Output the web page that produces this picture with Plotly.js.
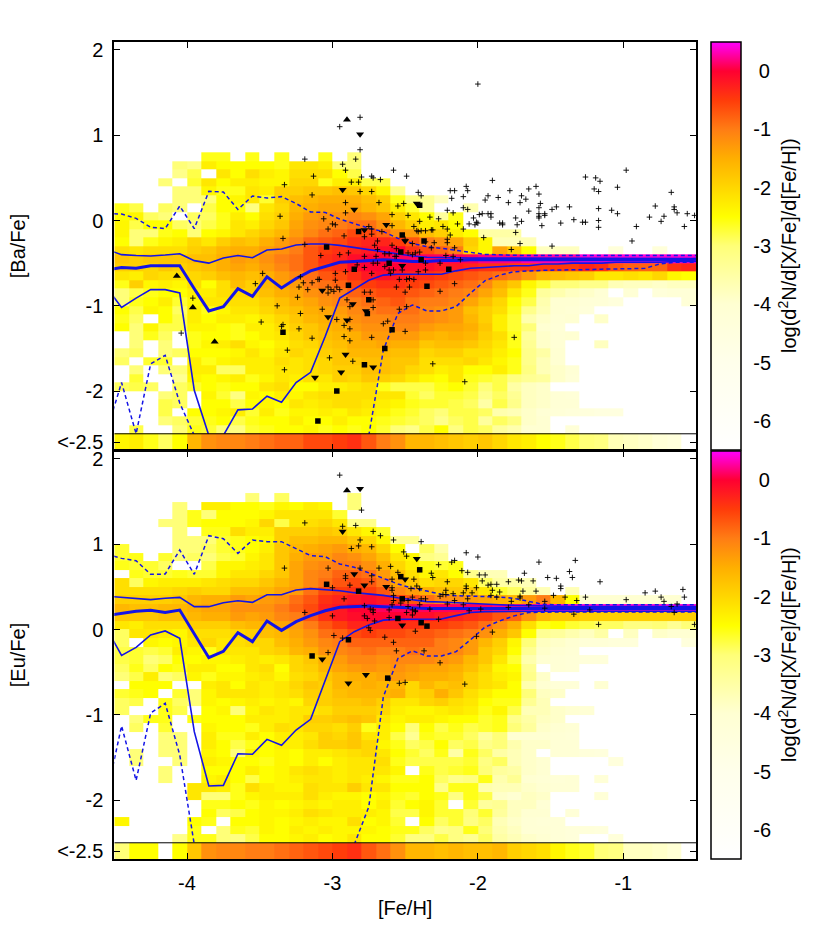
<!DOCTYPE html>
<html><head><meta charset="utf-8"><script src="https://cdn.plot.ly/plotly-3.0.1.min.js"></script>
<style>html,body{margin:0;padding:0;background:#fff}</style></head><body><div id="c" style="width:830px;height:930px"></div>
<script>
const _=null;
// log density in tenths of a dex; rows run top to bottom, last row is the "<-2.5" underflow bin
const baRows=[
[_,_,_,_,_,_,-26,-26,_,-26,_,-26,_,_,-26,_,-30],
[_,_,_,_,-30,-32,-23,-25,-25,-25,-25,-26,-22,-22,-23,-30,-30],
[_,_,_,_,-32,-28,_,-22,-25,-21,-23,-24,-21,-21,-21,-25,-28],
[_,_,_,-30,_,-27,-22,-25,-23,-23,-24,-24,-20,-20,-26,-23,-23,-28,-28],
[_,_,_,_,-30,-30,-24,-26,-26,-22,-23,-19,-19,-18,-18,-17,-18,-20,-24,-33],
[_,_,_,_,-30,-30,-30,-25,-24,-22,-27,-19,-17,-16,-15,-15,-15,-17,-19,-26,-31,-33,-38],
[-26,-28,_,-29,-30,_,-28,-25,-25,-31,-22,-20,-16,-15,-14,-14,-14,-16,-18,-23,-27,-33,_,_,-36],
[-25,-24,-29,-30,_,-29,-29,-26,-23,-25,-21,-19,-15,-13,-12,-12,-11,-12,-14,-19,-22,-25,-34,-26],
[-24,-28,-25,-25,-29,-30,-28,-26,-22,-23,-20,-18,-14,-12,-11,-10,-9,-9,-12,-16,-19,-23,-22,-25],
[-24,-30,-30,-26,-25,-30,-25,-24,-22,-20,-18,-16,-13,-11,-9,-8,-6,-6,-8,-12,-13,-17,-19,-23,-25,-35,-35,-35],
[-25,-30,-26,-24,-23,-20,-22,-19,-17,-18,-15,-13,-11,-8,-7,-6,-4,-3,-3,-5,-7,-10,-12,-14,-19,-24,-37,-37,-37],
[-21,-22,-21,-21,-21,-19,-18,-16,-15,-15,-13,-12,-10,-7,-5,-4,-3,-2,-1,0,-4,-6,-8,-10,-20,-24,-14,-18,-25,-38,-38,-38,_,_,-43,_,_,-43],
[-18,-19,-18,-18,-18,-17,-17,-15,-13,-14,-12,-10,-9,-7,-4,-3,-1,0,0,1,1,1,1,1,1,2,2,2,3,3,3,3,4,4,4,4,4,4,4,4],
[-19,-19,-20,-18,-19,-18,-17,-15,-14,-15,-13,-11,-9,-7,-5,-4,-1,0,0,0,-1,-1,-2,-2,-3,-4,-4,-5,-5,-5,-5,-5,-3,-4,-7,-8,-8,-8,-4,-3],
[-22,-23,-20,-21,-21,-20,-19,-17,-16,-17,-15,-13,-11,-9,-7,-6,-4,-2,-1,-2,-3,-4,-5,-6,-7,-8,-9,-10,-13,-16,-17,-18,-19,-22,-22,-21,-22,-20,-24,-25],
[-26,-19,-24,-23,-24,-21,-25,-21,-17,-19,-16,-14,-13,-10,-9,-8,-6,-5,-4,-4,-5,-6,-7,-8,-9,-11,-15,-18,-24,-27,-30,-30,-32,-32,-37,-38,-38,-39,-38,-38],
[-30,-28,-26,-25,-25,-23,-23,-21,-20,-19,-17,-15,-14,-12,-11,-10,-8,-7,-6,-6,-7,-8,-9,-10,-11,-14,-17,-22,-26,-34,-36,-38,-39,-41,_,-41,_,-43,-42,-42],
[-30,-26,-25,-23,-27,-24,-22,-22,-21,-21,-19,-17,-15,-14,-12,-11,-10,-9,-8,-7,-9,-10,-10,-11,-14,-17,-20,-25,-28,-36,-40,-40,-42,-42,-44,_,_,_,_,-42],
[-25,-28,-24,-25,-29,-23,-26,-24,-22,-22,-20,-18,-17,-15,-14,-13,-11,-10,-9,-9,-9,-11,-12,-13,-17,-19,-21,-26,-32,-37,-40,-41,-43],
[-26,-29,_,-25,-28,-23,-25,-23,-23,-24,-22,-20,-18,-16,-15,-14,-12,-11,-11,-10,-10,-11,-12,-13,-16,-19,-23,-27,-36,-39,-41,-40,_,-39],
[-25,-30,-24,-28,-28,-24,-24,-25,-26,-23,-23,-21,-19,-18,-16,-15,-13,-12,-12,-11,-11,-13,-14,-14,-15,-18,-23,-27,-30,-40,-42],
[_,-30,-26,-29,_,-26,-25,-25,-26,-25,-23,-22,-20,-18,-17,-16,-15,-13,-13,-13,-13,-15,-16,-15,-16,-19,-21,-26,-34,-39,-41,-40],
[_,-30,_,-30,_,-26,-24,-23,-21,-24,-25,-23,-21,-20,-18,-17,-15,-15,-14,-15,-15,-18,-17,-17,-18,-20,-22,-26,-33,-39,-41,_,_,-38],
[-30,-29,_,-30,-29,-25,-25,-25,-24,-22,-24,-22,-20,-21,-19,-18,-16,-16,-16,-17,-17,-20,-19,-19,-21,-21,-23,-25,-32,-35,-40],
[-29,_,-27,-27,_,-23,-26,-24,-23,-23,-23,-21,-22,-21,-20,-18,-18,-17,-17,-18,-18,-21,-21,-21,-20,-22,-24,-26,-32,-37,-40],
[_,-30,_,-30,-30,-23,-23,-29,-29,-23,-23,-22,-22,-21,-20,-19,-19,-17,-17,-18,-20,-21,-23,-22,-25,-25,-23,-26,-31,-37,-39,-41],
[_,-27,_,_,-33,-24,-25,-24,-23,-26,-24,-22,-23,-21,-22,-19,-20,-18,-19,-20,-22,-24,-25,-22,-26,-27,-28,-31,-33,-34,-39,-42],
[-29,-28,-29,_,-29,-27,-25,-26,-25,-25,-22,-21,-25,-25,-23,-23,-22,-21,-26,-28,-28,-28,-26,-25,-27,-30,-28,-35,-38,-39],
[_,_,_,-30,-29,_,-24,-27,-31,-24,-25,-23,-24,-22,-21,-21,-21,-21,-22,-22,-27,-29,-27,-27,-28,-32,-29,-33,-38,-39,-41,-42],
[_,_,_,-28,-29,_,-25,-25,-28,-25,-24,-25,-22,-23,-22,-21,-21,-22,-23,-24,-26,-27,-27,-28,-29,-35,-28,-32,-38,-39,-41,-41],
[_,_,_,-28,_,-25,-25,-24,-23,-27,-23,-26,-24,-24,-23,-24,-22,-23,-24,-26,-27,-29,-30,-28,-28,-29,-36,-37,-39,-41,-42,-43,-44,-45,-45],
[_,_,_,-30,-29,-27,-26,-25,-28,-26,-25,-25,-23,-25,-25,-23,-25,-25,-26,-27,-28,-29,-32,-29,-28,-34,-29,-31,-39,-40],
[_,-28,_,_,-30,-26,-27,-30,-31,-27,-26,-25,-25,-24,-26,-25,-26,-25,-27,-30,-32,-28,-25,-31,-28,-29,-34,-36,-40,-40,_,-42],
[-24,-23,-26,-29,-25,-16,-12,-11,-11,-10,-9,-8,-8,-6,-6,-5,-4,-7,-10,-12,-16,-16,-17,-18,-19,-18,-20,-22,-23,-25,-26,-28,-30,-31,-37,-38,-39,-42,-44]
];
const euRows=[
[_,_,_,_,_,_,_,_,_,-30,_,-29,_,_,_,_,-30],
[_,_,_,_,-30,_,-23,-23,-25,-25,-26,-24,-25,-23,-24,_,-30],
[_,_,_,_,-30,-26,-30,-25,-25,-25,-24,-22,-22,-22,-22,-27],
[_,_,_,-30,-30,-26,-25,-25,-25,-24,-20,-28,-22,-21,-20,-22,-32,-32],
[_,_,_,_,-30,_,-26,-26,-21,-23,-23,-19,-19,-19,-18,-19,-22,-24,-27],
[_,_,_,_,-30,-30,-30,-27,-26,-25,-24,-19,-17,-17,-16,-16,-18,-20,-24,-34,-34],
[-27,_,_,_,-30,-30,-29,-27,-26,-25,-23,-18,-16,-15,-14,-13,-15,-16,-20,-25,_,-29,-36],
[-27,-26,_,-27,-30,-29,-30,-28,-27,-24,-22,-18,-15,-13,-13,-11,-12,-14,-17,-22,-24,-31,-33],
[-26,-27,-27,-29,_,_,-28,-24,-24,-23,-22,-18,-14,-12,-11,-10,-10,-12,-15,-20,-23,-26,-27,-26],
[_,-26,-27,-27,-26,-27,-27,-24,-22,-22,-20,-18,-14,-11,-10,-8,-8,-9,-13,-17,-21,-24,-22,-25,-32,-37,-37],
[-21,-29,-24,-23,-23,-23,-22,-21,-20,-20,-18,-16,-14,-11,-9,-7,-6,-7,-10,-14,-18,-21,-20,-20,-22,-29,-35,-35,-37],
[-21,-21,-21,-21,-20,-19,-20,-20,-17,-17,-16,-14,-13,-9,-6,-5,-4,-5,-7,-11,-13,-15,-17,-18,-18,-22,-27,-29,-34,-37,_,-37],
[-19,-19,-19,-19,-18,-16,-15,-15,-13,-14,-13,-12,-9,-7,-4,-3,-2,-1,-2,-5,-7,-9,-11,-12,-13,-14,-15,-16,-13,-10,-16,-25,-40,-40,-40,-40,-40,-40,-40],
[-16,-17,-17,-16,-16,-15,-14,-14,-12,-12,-12,-10,-8,-6,-3,-2,0,0,1,1,1,1,1,1,1,1,2,2,3,3,4,4,4,4,4,4,4,4,4,4],
[-18,-18,-18,-17,-17,-16,-15,-15,-13,-14,-13,-11,-10,-7,-4,-2,-1,0,0,0,-1,-1,-2,-3,-4,-5,-7,-8,-12,-16,-18,-18,-19,-19,-19,-19,-19,-19,-19,-19],
[-22,-23,-21,-21,-21,-19,-19,-19,-17,-16,-16,-14,-13,-10,-7,-5,-3,-3,-3,-3,-4,-5,-5,-6,-7,-9,-12,-15,-21,-26,-25,-27,-28,-29,-29,-31,-31,-30,-33,-30],
[-29,-22,-22,-23,-24,-21,-21,-21,-20,-19,-17,-16,-14,-12,-9,-8,-6,-5,-6,-6,-7,-7,-8,-9,-10,-12,-15,-18,-25,-33,-34,-36,-38,-35,_,-38,_,-39,-40,-40],
[-29,_,-24,-25,-24,-22,-20,-22,-21,-20,-20,-17,-15,-13,-11,-10,-8,-8,-8,-8,-8,-8,-10,-11,-13,-16,-19,-24,-30,-38,-39,-40,-42,-42,-43,-43,_,_,_,-44],
[-28,-27,-28,-27,-23,-24,-26,-22,-22,-22,-20,-19,-16,-15,-12,-11,-10,-9,-10,-10,-9,-10,-10,-11,-13,-18,-20,-25,-33,-39,-40,-41],
[-28,-27,-30,-29,-25,-25,-24,-24,-23,-22,-23,-22,-20,-18,-15,-13,-11,-11,-12,-11,-11,-11,-12,-13,-16,-18,-22,-27,-36,-40,-41,-42,-43,-43],
[-29,-26,-29,-25,-26,-23,-23,-25,-25,-22,-21,-25,-20,-19,-16,-14,-13,-12,-13,-12,-13,-14,-14,-15,-17,-20,-24,-25,-33,_,-41,-42],
[-30,-28,-23,-30,-29,-24,-26,-24,-24,-23,-22,-24,-21,-20,-18,-16,-15,-15,-14,-13,-14,-15,-15,-16,-19,-21,-23,-24,-32,-39],
[_,-25,-25,-25,_,_,-23,-22,-25,-22,-23,-22,-20,-18,-19,-16,-16,-15,-16,-16,-20,-16,-18,-17,-19,-21,-22,-25,-36,-40,-42,-42,_,-40],
[-27,-26,-25,_,-27,-30,-24,-22,-22,-22,-23,-22,-21,-19,-19,-17,-16,-16,-16,-15,-20,-19,-15,-18,-21,-23,-25,-25,-30,-38,-39],
[-29,-28,_,-26,-29,-30,-24,-25,-24,-23,-24,-23,-24,-20,-19,-18,-18,-17,-19,-22,-22,-20,-19,-21,-22,-25,-26,-26,-33,-37],
[-29,_,_,-26,-28,_,-25,-24,-30,-24,-22,-23,-22,-22,-21,-19,-19,-19,-20,-23,-24,-24,-23,-22,-23,-26,-24,-28,-37,-37,-39,-40,-41],
[_,-30,-26,-26,_,-26,-25,-25,-25,-23,-23,-23,-22,-19,-19,-18,-17,-18,-22,-24,-23,-23,-24,-25,-25,-27,-26,-32,-35,-38,-39],
[_,-29,_,-27,_,_,-24,-25,-25,-26,-23,-21,-22,-20,-20,-21,-19,-26,-23,-25,-30,-25,-28,-26,-28,-27,-26,-30,-34,-39,-40,-41],
[_,_,_,-30,-30,_,-23,-26,-26,-23,-25,-23,-23,-22,-19,-20,-18,-22,-23,-28,-33,-26,-27,-27,-29,-34,-30,-40,-40,-40,-41,-42],
[_,_,_,-30,-30,_,-23,-25,-28,-26,-25,-23,-23,-21,-19,-19,-18,-20,-24,-26,-29,-28,-25,-29,-28,-32,-30,-36,-39,-39,-41,-41],
[_,-30,_,-30,-30,_,-24,-25,-30,-24,-25,-24,-25,-23,-23,-22,-21,-20,-22,-25,-27,-29,-26,-35,-26,-29,-35,-37,-39,_,-41,-41,-43,-44],
[_,-30,_,_,-30,_,-23,-24,-25,-25,-26,-24,-25,-23,-25,-23,-22,-22,-21,-26,-28,-28,-28,-28,-27,-31,-29,-37,-39,-40,_,_,_,_,-44],
[_,_,_,-30,_,_,-25,-25,-25,-23,-25,-24,-22,-21,-22,-23,-22,-22,-22,-24,_,-26,-28,-27,-26,-30,-34,-35,-39,-40],
[_,_,_,-30,_,_,-24,-23,-25,-28,-25,-24,-23,-22,-22,-23,-22,-23,-24,-26,-26,-25,-29,-32,-31,-26,-36,-33,-40,-41,-42,-41,_,-42],
[_,_,_,_,_,-22,-22,-23,-26,-21,-23,-24,-24,-21,-22,-22,-19,-22,-22,-25,-25,-25,-32,-26,-26,-36,-37,-37,-39,-40,-41,-41],
[_,_,_,_,_,-22,-30,-30,-26,-24,-23,-23,-23,-21,-23,-24,-24,-25,-24,-26,-27,-25,-26,-31,-26,-28,-39,-40,-38,-39,_,_,_,-42],
[_,_,_,_,_,_,-26,-26,-25,-26,-24,-25,-24,-23,-24,-23,-23,-25,-23,-27,-25,-24,-27,_,-27,-34,-33,-38,-38,-41],
[_,_,_,_,_,_,-25,-29,-28,-25,-24,-24,-23,-21,-22,-23,-23,-23,-24,-28,-28,-24,-27,-27,-30,-27,-34,-38,-40,-40,_,-42],
[-24,_,_,_,_,-25,-26,_,-25,-25,-24,-25,-24,-23,-24,-24,-21,-25,-24,-27,_,-25,-29,-27,-31,-29,-37,-39,-41,-42,-42],
[_,_,_,_,_,-26,_,-30,-26,-27,-24,-25,-23,-24,-23,-24,-24,-24,-25,-26,-26,-29,-32,-31,-26,-30,-36,-38,-41,-41,-42,-43,-43,-44],
[_,_,_,_,-32,-26,-26,-30,-31,-28,-25,-25,-24,-23,-25,-24,-22,-25,-25,-27,-31,-31,-28,-31,-33,-29,-35,-37,-39,-40,-42,-43,_,_,-43],
[-30,-25,-25,_,-25,-18,-12,-11,-11,-10,-10,-9,-8,-7,-6,-5,-4,-7,-9,-12,-16,-16,-17,-16,-17,-17,-16,-19,-20,-21,-24,-26,-27,-30,-31,-38,-38,-39,-41]
];
const binEdgesFeH=[-4.5,-4.4,-4.3,-4.2,-4.1,-4,-3.9,-3.8,-3.7,-3.6,-3.5,-3.4,-3.3,-3.2,-3.1,-3,-2.9,-2.8,-2.7,-2.6,-2.5,-2.4,-2.3,-2.2,-2.1,-2,-1.9,-1.8,-1.7,-1.6,-1.5,-1.4,-1.3,-1.2,-1.1,-1,-0.9,-0.8,-0.7,-0.6,-0.5];
const lineFeH=[-4.55,-4.45,-4.35,-4.25,-4.15,-4.05,-3.95,-3.85,-3.75,-3.65,-3.55,-3.45,-3.35,-3.25,-3.15,-3.05,-2.95,-2.85,-2.75,-2.65,-2.55,-2.45,-2.35,-2.25,-2.15,-2.05,-1.95,-1.85,-1.75,-1.65,-1.55,-1.45,-1.35,-1.25,-1.15,-1.05,-0.95,-0.85,-0.75,-0.65,-0.55,-0.45];
const baMean=[-.58,-.55,-.56,-.53,-.53,-.53,-.8,-1.06,-1.01,-.8,-.89,-.66,-.79,-.68,-.59,-.54,-.49,-.48,-.47,-.46,-.47,-.48,-.48,-.47,-.47,-.46,-.46,-.46,-.46,-.46,-.46,-.46,-.46,-.46,-.46,-.46,-.46,-.46,-.46,-.46,-.46,-.45];
const baUp1=[-.34,-.4,-.41,-.416,-.405,-.389,-.47,-.5,-.44,-.41,-.436,-.346,-.334,-.287,-.275,-.275,-.291,-.315,-.338,-.365,-.393,-.416,-.43,-.435,-.44,-.44,-.44,-.44,-.44,-.44,-.445,-.445,-.445,-.445,-.445,-.445,-.445,-.445,-.445,-.445,-.445,-.445];
const baLo1=[-.79,-1.02,-.91,-.81,-.81,-.85,-1.99,-2.52,-2.52,-2.22,-2.21,-2.06,-2.13,-1.9,-1.78,-1.36,-.91,-.8,-.7,-.64,-.63,-.63,-.63,-.63,-.59,-.56,-.55,-.54,-.53,-.53,-.51,-.51,-.5,-.5,-.5,-.49,-.49,-.49,-.49,-.48,-.48,-.48];
const baUp2=[.08,.076,.025,-.079,-.095,.17,-.095,.342,.334,.13,.287,.264,.28,.2,.1,.095,.017,-.04,-.09,-.13,-.209,-.27,-.307,-.326,-.346,-.373,-.397,-.405,-.408,-.41,-.41,-.41,-.41,-.41,-.41,-.41,-.41,-.41,-.41,-.41,-.41,-.41];
const baLo2=[-2.46,-1.9,-2.5,-1.68,-1.58,-2.14,-2.52,_,_,_,_,_,_,_,_,_,_,_,-2.52,-1.52,-1.09,-.99,-1.06,-1.06,-1.01,-.85,-.705,-.64,-.6,-.59,-.584,-.58,-.58,-.575,-.57,-.57,-.565,-.56,-.51,-.49,-.49,-.49];
const euMean=[.165,.19,.214,.225,.2,.228,-.045,-.33,-.256,-.037,-.142,.1,-.01,.092,.163,.22,.26,.267,.275,.267,.26,.248,.245,.245,.245,.245,.245,.245,.245,.245,.245,.245,.245,.245,.245,.245,.245,.245,.245,.245,.245,.245];
const euUp1=[.39,.377,.358,.35,.366,.377,.268,.268,.314,.338,.318,.408,.408,.463,.479,.467,.455,.432,.42,.4,.373,.35,.327,.323,.314,.31,.3,.29,.283,.28,.275,.27,.27,.27,.27,.27,.27,.27,.27,.27,.27,.27];
const euLo1=[0,-.303,-.209,-.064,-.017,-.104,-1.198,-1.835,-1.827,-1.456,-1.463,-1.288,-1.358,-1.178,-1.053,-.6,-.143,-.025,.053,.11,.12,.12,.12,.123,.163,.2,.21,.213,.215,.215,.215,.215,.215,.215,.215,.215,.215,.215,.215,.215,.215,.215];
const euUp2=[.88,.834,.807,.647,.65,.932,.647,1.1,1.065,.893,1.049,1.03,1.03,.95,.866,.854,.768,.729,.66,.6,.534,.483,.451,.412,.397,.393,.385,.381,.365,.326,.295,.29,.29,.29,.29,.29,.29,.29,.29,.29,.29,.29];
const euLo2=[-1.92,-1.13,-1.77,-.98,-.865,-1.47,-2.52,_,_,_,_,_,_,_,_,_,_,-2.52,-2.08,-.79,-.34,-.25,-.31,-.31,-.26,-.12,.03,.1,.16,.2,.205,.205,.205,.205,.205,.205,.205,.205,.205,.205,.205,.205];
const baPlus=[[-2.81,1.21],[-2.95,1.1],[-2.81,.83],[-2.84,.72],[-3.19,.72],[-2.93,.66],[-2.91,.59],[-2.58,.59],[-2.49,.52],[-3.13,.52],[-2.8,.51],[-2.73,.52],[-2.72,.5],[-2.67,.48],[-2.87,.45],[-2.82,.45],[-3.33,.42],[-2.41,.33],[-2.81,.34],[-2.73,.34],[-3.14,.3],[-2.68,.21],[-2.51,.2],[-2.55,.17],[-2.91,.21],[-2.91,.09],[-3.36,.05],[-2.59,.07],[-2.48,.06],[-3.06,.02],[-3,-.04],[-2.98,-.05],[-3.03,-.1],[-2.44,-.07],[-2.59,-.06],[-2.75,-.07],[-2.73,-.1],[-2.66,-.13],[-2.42,-.12],[-2.41,-.13],[-3.34,-.21],[-2.92,-.18],[-2.78,-.19],[-2.73,-.16],[-2.71,-.29],[-2.69,-.24],[-2.59,-.29],[-2.5,-.22],[-2.45,-.27],[-3.19,-.28],[-2.56,-.33],
[-2,1.6],[-1.9,.47],[-1.26,.51],[-1.19,.5],[-1.16,.46],[-.98,.59],[-1.04,.39],[-1.2,.37],[-1.17,.34],[-.67,.33],[-2.08,.4],[-2.19,.35],[-2.16,.35],[-2.07,.35],[-2.1,.28],[-2.18,.26],[-2.39,.29],[-1.6,.4],[-1.65,.37],[-1.78,.35],[-1.58,.31],[-1.7,.29],[-1.67,.25],[-1.86,.27],[-1.93,.29],[-1.95,.24],[-1.79,.21],[-1.71,.21],[-1.57,.2],[-1.58,.15],[-2.1,.15],[-2.07,.13],[-2.21,.12],[-2.17,.09],[-2.33,.04],[-2.27,.02],[-1.99,.07],[-1.97,.08],[-1.93,.08],[-1.91,.08],[-1.91,.04],[-2.03,.03],[-2.01,-.02],[-2,-.03],[-2.06,-.04],[-2.02,-.05],[-1.85,-.03],[-1.83,-.03],[-1.83,-.05],[-1.74,.03],[-1.7,-.01],[-1.73,-.05],[-1.58,.08],[-1.54,.08],[-1.58,.05],[-1.58,.03],[-1.54,.06],[-1.65,.11],[-1.49,.13],[-1.46,.16],[-1.37,.16],[-1.34,.01],[-1.43,-.03],[-1.28,-.02],[-1.26,-.02],[-1.56,-.06],[-1.17,.14],[-1.08,.12],[-1.04,.08],[-1.17,0],[-1.17,-.08],[-.91,-.07],[-.78,.17],[-.65,.16],[-.65,.13],[-.63,.09],[-.72,.05],[-.82,.04],[-.74,-.01],[-.58,-.07],[-.56,.08],[-.51,.06],[-.94,-.24],[-2.4,-.01],[-2.39,-.12],[-2.36,-.12],[-2.32,-.11],[-2.31,-.11],[-2.24,-.07],[-2.21,-.1],[-2.14,-.04],[-2.1,-.1],[-2.19,-.17],[-1.96,-.2],[-1.74,-.14],[-2.21,-.22],[-2.21,-.26],[-2.3,-.26],[-2.36,-.25],[-1.71,-.27],[-1.49,-.3],[-1.77,-.34],[-2.16,-.32],[-2.32,-.32],
[-2.45,-.4],[-2.43,-.38],[-2.4,-.37],[-2.22,-.41],[-2.17,-.42],[-2.12,-.46],[-2.36,-.5],[-2.26,-.5],[-2.41,-.6],[-2.36,-.58],[-2.52,-.58],[-2.54,-.69],[-2.49,-.69],[-2.47,-.68],[-2.47,-.78],[-2.5,-.84],[-2.16,-.74],[-2.26,-.83],[-2.49,-1.01],[-2.54,-1.04],[-2.5,-1.3],[-1.75,-1.37],[-2.31,-1.68],[-2.09,-1.89],
[-3.08,-.41],[-2.95,-.4],[-2.78,-.42],[-2.69,-.34],[-2.56,-.42],[-2.7,-.42],[-2.64,-.39],[-2.61,-.39],[-2.57,-.42],[-2.48,-.38],[-2.98,-.62],[-2.91,-.6],[-3.09,-.69],[-3.48,-.62],[-3.53,-.74],[-3.22,-.66],[-3.23,-.78],[-3.2,-.73],[-3.14,-.73],[-3.1,-.69],[-3.17,-.81],[-3.24,-.9],[-2.98,-.7],[-3.03,-.78],[-3.01,-.81],[-2.99,-.83],[-2.95,-.81],[-3.03,-.85],[-2.97,-.78],[-3.38,-1],[-3.07,-1.04],[-3.22,-1.09],[-3.49,-1.19],[-3.34,-1.22],[-3.35,-1.24],[-3.23,-1.27],[-3.14,-1.38],[-3.31,-1.52],[-3.33,-1.75],[-3.02,-1.61],[-2.97,-1.16],[-2.92,-1.23],[-2.88,-1.16],[-2.88,-1.27],[-2.92,-1.36],[-2.88,-1.41],[-2.86,-1.65],[-2.73,-1.37],[-2.9,-.93],[-2.88,-1.01],[-2.72,-.93],[-2.72,-1.02],[-2.78,-.84],[-2.74,-.84],[-2.56,-.78],[-2.44,-.69],[-2.6,-.62],[-2.65,-1.21],[-2.62,-1.18],[-3.96,-.91],[-4.04,-1.32],[-2.64,-.54],[-2.58,-.58],[-2.72,-.5],[-2.69,-.5],[-2.61,-.58],[-2.73,-.62],[-2.78,-.55],[-2.89,-.38],[-2.83,-.52]];
const baUpTri=[[-2.9,1.18],[-4.07,-.65],[-3.96,-1.02],[-3.81,-1.42]];
const baDownTri=[[-2.81,1.01],[-2.93,.36],[-2.85,.13],[-2.63,-.05],[-2.78,-.11],[-2.5,-.24],[-2.42,.2],[-3.07,-.82],[-3.03,-1.13],[-2.9,-1.17],[-2.86,-.98],[-2.77,-1.06],[-2.91,-1.57],[-2.72,-1.72],[-2.94,-1.78],[-3.12,-1.84],[-2.52,-.53]];
const baSquare=[[-2.82,-.13],[-2.52,-.17],[-3.04,-.31],[-2.4,.18],[-2.37,-.24],[-2.53,-.37],[-2.61,-.5],[-2.85,-.57],[-2.89,-.76],[-2.75,-.93],[-2.76,-1.09],[-2.59,-1.28],[-2.64,-1.5],[-2.78,-1.69],[-2.97,-2],[-3.1,-2.35],[-3.34,-1.31],[-2.39,-.46],[-2.2,-.57],[-2.35,-.77]];
const euPlus=[[-2.95,1.81],[-2.8,1.4],[-3.19,1.25],[-2.93,1.21],[-2.84,1.22],[-2.72,1.15],[-2.67,1.1],[-2.81,1.05],[-2.58,1.05],[-2.87,.95],[-2.82,.98],[-2.73,.97],[-2.51,.91],[-2.49,.86],[-3.33,.72],[-3.03,.72],[-2.81,.72],[-2.68,.72],[-2.6,.74],[-2.55,.67],[-2.73,.63],[-2.91,.63],[-2.91,.6],[-2.59,.59],[-2.44,.59],[-2.73,.56],[-2.88,.52],[-2.59,.49],[-2.59,.46],[-2.42,.51],[-3,.49],[-2.92,.36],[-2.58,.4],[-2.58,.34],[-2.48,.34],[-2.45,.38],[-2.53,.31],[-2.59,.29],[-2.48,.27],[-2.78,.28],[-2.72,.23],[-2.74,.24],[-2.72,.2],[-2.61,.23],[-2.49,.2],[-2.43,.22],[-2.45,.17],[-3.19,.2],[-3,.16],[-2.78,.16],[-2.76,.13],[-2.61,.14],[-2.71,.1],[-2.75,.02],[-2.74,-.01],[-2.43,-.02],[-2.99,-.07],[-2.93,-.1],[-2.64,-.09],[-2.58,-.15],[-2.56,-.25],[-3.03,-.27],[-2.54,-.63],[-2.5,-.62],
[-2.39,1.03],[-2.08,.9],[-2,.85],[-1.58,.79],[-1.33,.81],[-2.27,.76],[-2.18,.79],[-2.16,.81],[-2.11,.69],[-2.07,.67],[-2.32,.66],[-2.31,.61],[-1.99,.64],[-1.95,.64],[-1.68,.66],[-1.37,.68],[-1.35,.61],[-1.52,.61],[-1.46,.6],[-1.72,.58],[-1.7,.57],[-1.62,.57],[-1.97,.57],[-2.21,.56],[-1.79,.56],[-1.87,.53],[-1.93,.52],[-1.91,.53],[-1.43,.51],[-1.43,.48],[-1.16,.56],[-2.08,.51],[-2.08,.48],[-2.22,.46],[-2.01,.49],[-2.46,.48],[-2.4,.48],[-1.9,.46],[-1.85,.44],[-1.69,.45],[-1.6,.45],[-.59,.47],[-.78,.45],[-.85,.43],[-.58,.38],[-.74,.38],[-.72,.33],[-.63,.3],[-.67,.27],[-.98,.35],[-1.26,.38],[-1.32,.34],[-1.4,.38],[-1.48,.4],[-1.54,.33],[-1.71,.39],[-1.71,.37],[-1.77,.33],[-1.65,.29],[-1.79,.26],[-1.87,.38],[-1.91,.4],[-2.04,.43],[-2.1,.43],[-2.07,.36],[-2.17,.42],[-2.22,.41],[-2.24,.41],[-2.26,.39],[-2.36,.36],[-2.39,.36],[-2.16,.34],[-2.21,.3],[-2.1,.29],[-2.4,.29],[-1.98,.24],[-2.33,.24],[-2.06,.22],[-1.54,.25],[-1.23,.23],[-2.45,.23],[-2.43,.21],[-2.27,.12],[-1.34,.18],[-.65,.2],[-1.17,.06],[-.51,.06],[-1.9,-.03],[-2.01,-.08],[-2.37,-.25],[-2.26,-.39],[-2.09,-.64]];
const euUpTri=[[-2.9,1.63]];
const euDownTri=[[-2.81,1.65],[-2.93,1.15],[-2.42,.83],[-2.85,.65],[-2.78,.52],[-2.63,.5],[-2.5,.59],[-2.52,.05],[-3.07,-.35],[-2.89,-.63],[-2.77,-.53]];
const euSquare=[[-3.04,.53],[-2.82,.45],[-2.52,.36],[-2.53,.62],[-2.55,.13],[-2.89,-.12],[-3.14,-.31],[-2.62,-.57],[-2.4,.7],[-2.39,.08],[-2.35,.04]];
const barTicks=[0,-1,-2,-3,-4,-5,-6];
const barTickText=["\u00a00","-1","-2","-3","-4","-5","-6"];
const yTickVals=[2,1,0,-1,-2,-2.6];
const yTickText=["2","1","0","-1","-2","<-2.5"];
const xTickVals=[-4,-3,-2,-1];
const xTickText=["-4","-3","-2","-1"];

const W=830,H=930,FONT='"Liberation Sans",Arial,sans-serif',FS=20,ZMIN=-6.5,ZMAX=0.5;
const px=v=>v/W, py=v=>1-v/H;
const stop=v=>(v-ZMIN)/(ZMAX-ZMIN);
const scale=[[-6.5,'#ffffff'],[-5,'#ffffeb'],[-4,'#ffffd2'],[-3,'#ffff78'],[-2.5,'#ffff00'],[-2,'#ffd700'],[-1.5,'#ffaf00'],[-1,'#ff7d14'],[-.5,'#ff3c0a'],[0,'#ff0032'],[.5,'#ff00ff']].map(([v,c])=>[stop(v),c]);
const fnt={family:FONT,size:FS,color:'#000'};
function heat(rows,xa,ya,barTop,barBottom){
  const z=rows.slice().reverse().map(r=>{const o=[];for(let i=0;i<40;i++)o.push(r[i]===undefined||r[i]===null?null:r[i]/10);return o;});
  const edges=[-2.7,-2.5];
  for(let i=1;i<rows.length;i++)edges.push(+(-2.5+i/10).toFixed(1));
  return {type:'heatmap',x:binEdgesFeH,y:edges,z,xaxis:xa,yaxis:ya,zmin:ZMIN,zmax:ZMAX,colorscale:scale,zsmooth:false,hoverongaps:false,
    colorbar:{x:px(711),xanchor:'left',xpad:0,ypad:0,y:py((barTop+barBottom)/2),yanchor:'middle',thicknessmode:'pixels',thickness:30,lenmode:'pixels',len:barBottom-barTop,
      outlinewidth:1.5,outlinecolor:'#000',tickmode:'array',tickvals:barTicks,ticktext:barTickText,ticks:'outside',ticklen:8,tickwidth:1,tickcolor:'rgba(0,0,0,0)',tickfont:fnt}};
}
const line=(y,xa,ya,w,dash)=>({type:'scatter',mode:'lines',x:lineFeH,y,xaxis:xa,yaxis:ya,connectgaps:false,line:{color:'#1414e6',width:w,dash:dash||'solid'},hoverinfo:'skip',showlegend:false});
const pts=(p,xa,ya,sym,size,lw)=>({type:'scatter',mode:'markers',x:p.map(a=>a[0]),y:p.map(a=>a[1]),xaxis:xa,yaxis:ya,showlegend:false,marker:{symbol:sym,size,color:'#000',line:{color:'#000',width:lw}}});
function panel(rows,xa,ya,ya2,b0,b1,sets){
  return [heat(rows,xa,ya,b0,b1),
    line(sets.up2,xa,ya2,1.5,'4px,3px'),line(sets.lo2,xa,ya2,1.5,'4px,3px'),
    line(sets.up1,xa,ya2,1.6),line(sets.lo1,xa,ya2,1.6),line(sets.mean,xa,ya2,3),
    pts(sets.plus,xa,ya2,'cross-thin',4,0.9),pts(sets.up,xa,ya2,'triangle-up',7,0),pts(sets.down,xa,ya2,'triangle-down',7,0),pts(sets.sq,xa,ya2,'square',5.5,0)];
}
const data=[...panel(baRows,'x','y','y3',42,450,{up2:baUp2,lo2:baLo2,up1:baUp1,lo1:baLo1,mean:baMean,plus:baPlus,up:baUpTri,down:baDownTri,sq:baSquare}),
            ...panel(euRows,'x2','y2','y4',451,859,{up2:euUp2,lo2:euLo2,up1:euUp1,lo1:euLo1,mean:euMean,plus:euPlus,up:euUpTri,down:euDownTri,sq:euSquare})];
const xBase={range:[-4.5,-0.5],domain:[px(114.3),px(696)],tickmode:'array',tickvals:xTickVals,ticktext:xTickText,ticks:'inside',ticklen:6,tickwidth:1,tickcolor:'#000',linecolor:'#000',linewidth:2,mirror:'ticks',showgrid:false,zeroline:false,tickfont:fnt,ticklabelstandoff:5};
const yBase={range:[-2.69,2.093],tickmode:'array',tickvals:yTickVals,ticktext:yTickText,ticks:'inside',ticklen:6,tickwidth:1,tickcolor:'#000',linecolor:'#000',linewidth:2,mirror:'ticks',showgrid:false,zeroline:false,tickfont:fnt,ticklabelstandoff:5};
const over={visible:false,range:[-2.5,2.093],showgrid:false,zeroline:false};
const shapes=[];
[['x','y'],['x2','y2']].forEach(([xa,ya])=>shapes.push({type:'line',xref:xa,yref:ya,x0:-4.5,x1:-0.5,y0:-2.5,y1:-2.5,line:{color:'#000',width:1},layer:'above'}));
[[42,450],[451,859]].forEach(([t,b])=>barTicks.forEach(v=>{const yy=b-(v-ZMIN)/(ZMAX-ZMIN)*(b-t);
  shapes.push({type:'line',xref:'paper',yref:'paper',x0:px(711),x1:px(717),y0:py(yy),y1:py(yy),line:{color:'#000',width:1}});
  shapes.push({type:'line',xref:'paper',yref:'paper',x0:px(735),x1:px(741),y0:py(yy),y1:py(yy),line:{color:'#000',width:1}});}));
const ann=(text,x,y)=>({text,x:px(x),y:py(y),xref:'paper',yref:'paper',xanchor:'center',yanchor:'middle',textangle:-90,showarrow:false,font:fnt});
const layout={width:W,height:H,margin:{l:0,r:0,t:0,b:0,autoexpand:false},paper_bgcolor:'#fff',plot_bgcolor:'rgba(0,0,0,0)',showlegend:false,font:fnt,
  xaxis:{...xBase,anchor:'y',showticklabels:false},
  xaxis2:{...xBase,anchor:'y2',title:{text:'[Fe/H]',font:fnt,standoff:8}},
  yaxis:{...yBase,anchor:'x',domain:[py(450),py(42)],title:{text:'[Ba/Fe]',font:fnt,standoff:26}},
  yaxis2:{...yBase,anchor:'x2',domain:[py(859),py(451)],title:{text:'[Eu/Fe]',font:fnt,standoff:26}},
  yaxis3:{...over,anchor:'x',domain:[py(433.75),py(42)]},
  yaxis4:{...over,anchor:'x2',domain:[py(842.75),py(451)]},
  shapes,
  annotations:[ann('log(d<sup>2</sup>N/d[X/Fe]/d[Fe/H])',787,246),ann('log(d<sup>2</sup>N/d[X/Fe]/d[Fe/H])',787,655)]};
Plotly.newPlot('c',data,layout,{staticPlot:true,displayModeBar:false});
</script></body></html>
